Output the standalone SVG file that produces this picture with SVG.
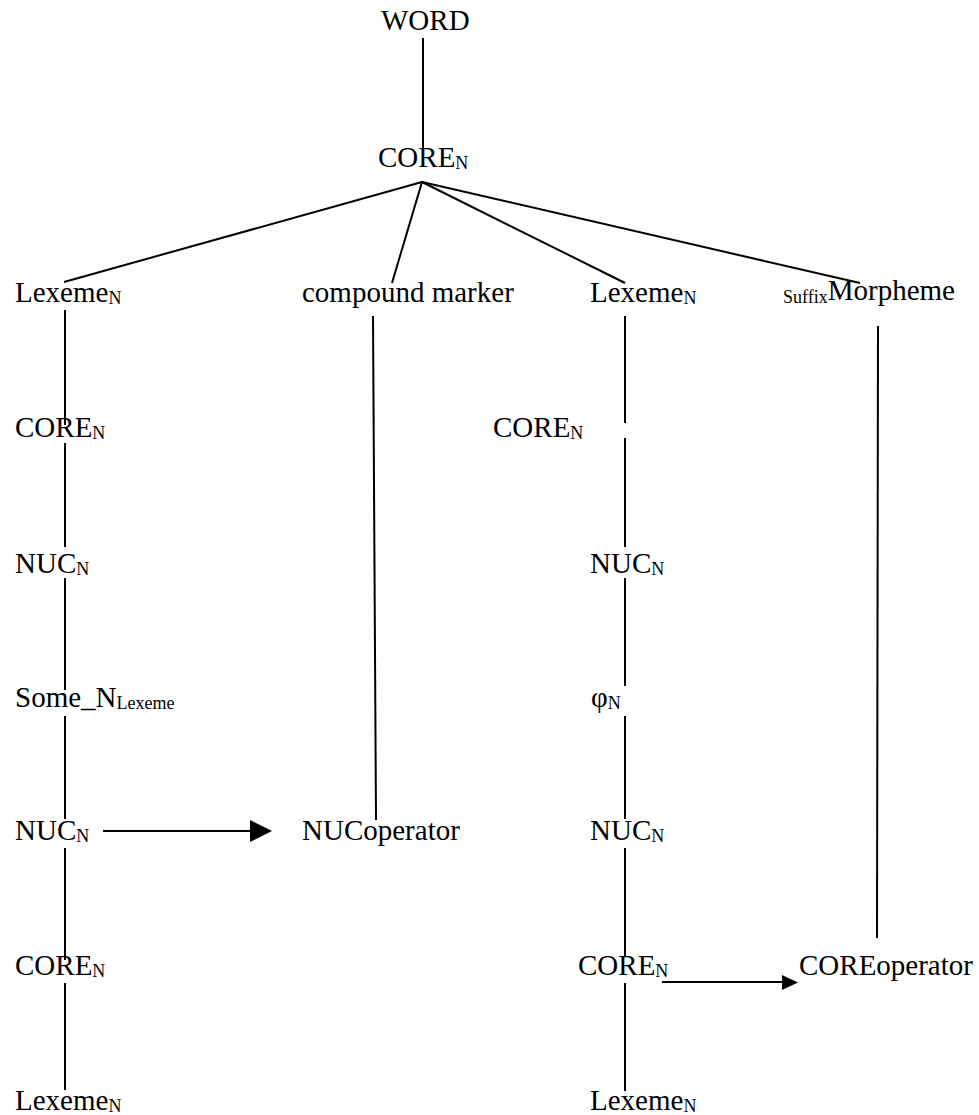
<svg xmlns="http://www.w3.org/2000/svg" width="979" height="1115" viewBox="0 0 979 1115">
  <style>
    text { font-family: "Liberation Serif", "Times New Roman", serif; font-size: 29px; fill: #000; }
    .sub { font-size: 18px; }
    .edge { stroke: #000; stroke-width: 2; fill: none; }
    .head { fill: #000; stroke: none; }
  </style>
  <rect width="979" height="1115" fill="#fff"/>

  <!-- connectors -->
  <g id="connectors">
    <line class="edge" x1="423" y1="38" x2="423" y2="150"/>
    <!-- fan out of the top CORE -->
    <line class="edge" x1="422" y1="182" x2="64" y2="282"/>
    <line class="edge" x1="422" y1="182" x2="392" y2="283"/>
    <line class="edge" x1="422" y1="182" x2="625" y2="283"/>
    <line class="edge" x1="422" y1="182" x2="860" y2="283"/>
    <!-- left spine -->
    <line class="edge" x1="65" y1="310" x2="65" y2="425"/>
    <line class="edge" x1="65" y1="443" x2="65" y2="547"/>
    <line class="edge" x1="65" y1="578" x2="65" y2="690"/>
    <line class="edge" x1="65" y1="716" x2="65" y2="819"/>
    <line class="edge" x1="65" y1="848" x2="65" y2="960"/>
    <line class="edge" x1="65" y1="983" x2="65" y2="1090"/>
    <!-- compound marker down to NUCoperator -->
    <line class="edge" x1="373" y1="316" x2="376" y2="820"/>
    <!-- right spine -->
    <line class="edge" x1="625" y1="316" x2="625" y2="423"/>
    <line class="edge" x1="625" y1="438" x2="625" y2="547"/>
    <line class="edge" x1="625" y1="578" x2="625" y2="686"/>
    <line class="edge" x1="625" y1="716" x2="625" y2="819"/>
    <line class="edge" x1="625" y1="848" x2="625" y2="957"/>
    <line class="edge" x1="625" y1="983" x2="625" y2="1091"/>
    <!-- suffix morpheme down to COREoperator -->
    <line class="edge" x1="878" y1="326" x2="877" y2="938"/>
    <!-- operator arrows -->
    <line class="edge" x1="103" y1="831" x2="252" y2="831"/>
    <polygon class="head" points="250,820 272,831 250,842"/>
    <line class="edge" x1="662" y1="982" x2="784" y2="982"/>
    <polygon class="head" points="782,975 798,982.5 782,990"/>
  </g>

  <g id="word"><text x="381" y="30">WORD</text></g>
  <g id="core-top"><text x="378" y="167">CORE<tspan class="sub" dy="2">N</tspan></text></g>

  <g id="lexeme-left"><text x="15" y="302">Lexeme<tspan class="sub" dy="2">N</tspan></text></g>
  <g id="compound-marker"><text x="302" y="302">compound marker</text></g>
  <g id="lexeme-right"><text x="590" y="302">Lexeme<tspan class="sub" dy="2">N</tspan></text></g>
  <g id="suffix-morpheme"><text x="783" y="303"><tspan class="sub">Suffix</tspan><tspan dy="-3">Morpheme</tspan></text></g>

  <g id="core-left-1"><text x="15" y="437">CORE<tspan class="sub" dy="2">N</tspan></text></g>
  <g id="nuc-left-1"><text x="15" y="573">NUC<tspan class="sub" dy="2">N</tspan></text></g>
  <g id="some-n"><text x="15" y="707">Some_N<tspan class="sub" dy="2">Lexeme</tspan></text></g>
  <g id="nuc-left-2"><text x="15" y="840">NUC<tspan class="sub" dy="2">N</tspan></text></g>
  <g id="core-left-2"><text x="15" y="975">CORE<tspan class="sub" dy="2">N</tspan></text></g>
  <g id="lexeme-left-bottom"><text x="15" y="1110">Lexeme<tspan class="sub" dy="2">N</tspan></text></g>

  <g id="nuc-operator"><text x="302" y="840">NUCoperator</text></g>

  <g id="core-right-1"><text x="493" y="437">CORE<tspan class="sub" dy="2">N</tspan></text></g>
  <g id="nuc-right-1"><text x="590" y="573">NUC<tspan class="sub" dy="2">N</tspan></text></g>
  <g id="phi-n"><text x="591" y="707">φ<tspan class="sub" dy="2">N</tspan></text></g>
  <g id="nuc-right-2"><text x="590" y="840">NUC<tspan class="sub" dy="2">N</tspan></text></g>
  <g id="core-right-2"><text x="578" y="975">CORE<tspan class="sub" dy="2">N</tspan></text></g>
  <g id="lexeme-right-bottom"><text x="590" y="1110">Lexeme<tspan class="sub" dy="2">N</tspan></text></g>

  <g id="core-operator"><text x="799" y="975">COREoperator</text></g>
</svg>
